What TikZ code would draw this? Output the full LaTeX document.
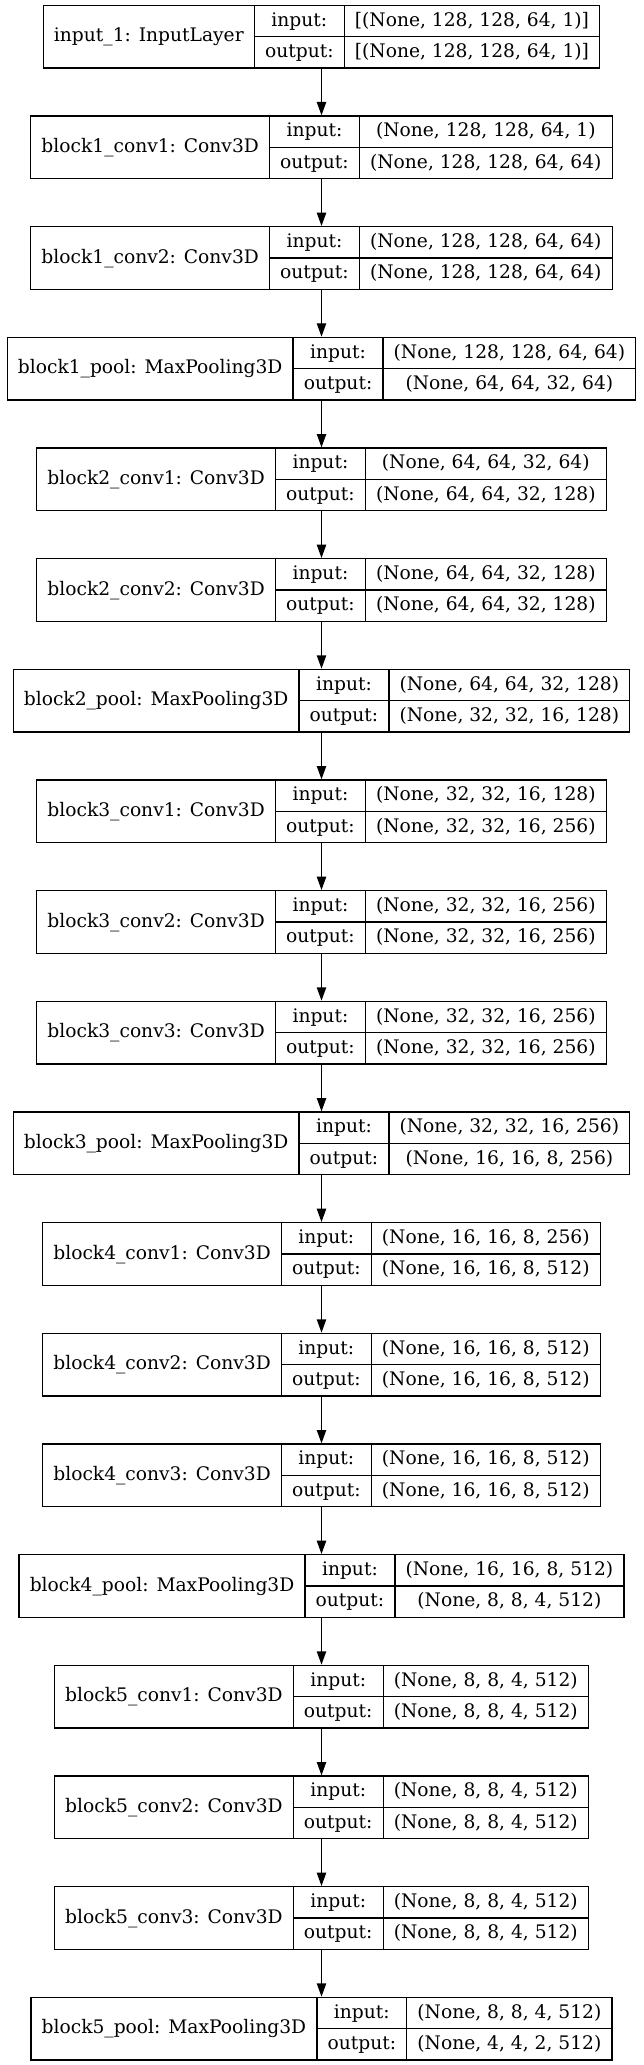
\documentclass[tikz,border=0pt]{standalone}
\usepackage{fontspec}
\newfontfamily\recfam{DejaVu Serif}
\usetikzlibrary{arrows.meta}
\newlength\Wl \newlength\Wio \newlength\Wv \newlength\Wt
\newcommand\rf{\recfam\fontsize{14pt}{16.8pt}\selectfont}
\newcommand\measure[2]{%
  \pgfinterruptpicture
    \global\setbox1=\hbox{\normalfont\rf #2}%
  \endpgfinterruptpicture
  #1=\wd1\relax
}
\tikzset{
  recbox/.style={draw=black, line width=1pt, inner sep=0pt, minimum height=47pt},
  recline/.style={draw=black, line width=1pt},
  rectext/.style={anchor=base, inner sep=0pt, font=\rf},
  arr/.style={draw=black, line width=1pt, -{Triangle[length=10pt,width=7pt]}},
}
\newcommand\record[5]{%
  \measure\Wl{#3}%
  \measure\Wio{output:}%
  \measure\Wv{#4}%
  \measure\Wt{#5}%
  \ifdim\Wt>\Wv \Wv=\Wt\fi
  \pgfmathsetmacro\ca{\Wl+16}%
  \pgfmathsetmacro\cb{\Wio+16}%
  \pgfmathsetmacro\cc{\Wv+16}%
  \pgfmathsetmacro\tw{\ca+\cb+\cc}%
  \pgfmathsetmacro\xl{241.125-\tw/2}%
  \pgfmathsetmacro\xa{\xl+\ca}%
  \pgfmathsetmacro\xb{\xa+\cb}%
  \pgfmathsetmacro\xr{\xb+\cc}%
  \pgfmathsetmacro\yt{-4-83*#2}%
  \pgfmathsetmacro\yb{\yt-47}%
  \pgfmathsetmacro\ym{\yt-23.5}%
  \node[recbox, minimum width=\tw pt] (#1) at (241.125,\ym) {};
  \draw[recline] (\xa,\yt) -- (\xa,\yb);
  \draw[recline] (\xb,\yt) -- (\xb,\yb);
  \draw[recline] (\xa,\ym) -- (\xr,\ym);
  \node[rectext] (#1-l) at ({(\xl+\xa)/2},{\ym-3.8}) {#3};
  \node[rectext] (#1-i) at ({(\xa+\xb)/2},{\yt-11.75-3.8}) {input:};
  \node[rectext] (#1-o) at ({(\xa+\xb)/2},{\yt-35.25-3.8}) {output:};
  \node[rectext] (#1-iv) at ({(\xb+\xr)/2},{\yt-11.75-3.8}) {#4};
  \node[rectext] (#1-ov) at ({(\xb+\xr)/2},{\yt-35.25-3.8}) {#5};
}
\begin{document}
\begin{tikzpicture}[x=1pt,y=1pt]
\useasboundingbox (0,0) rectangle (482.25,-1548.75);
\record{n0}{0}{input\_1: InputLayer}{[(None, 128, 128, 64, 1)]}{[(None, 128, 128, 64, 1)]}
\record{n1}{1}{block1\_conv1: Conv3D}{(None, 128, 128, 64, 1)}{(None, 128, 128, 64, 64)}
\record{n2}{2}{block1\_conv2: Conv3D}{(None, 128, 128, 64, 64)}{(None, 128, 128, 64, 64)}
\record{n3}{3}{block1\_pool: MaxPooling3D}{(None, 128, 128, 64, 64)}{(None, 64, 64, 32, 64)}
\record{n4}{4}{block2\_conv1: Conv3D}{(None, 64, 64, 32, 64)}{(None, 64, 64, 32, 128)}
\record{n5}{5}{block2\_conv2: Conv3D}{(None, 64, 64, 32, 128)}{(None, 64, 64, 32, 128)}
\record{n6}{6}{block2\_pool: MaxPooling3D}{(None, 64, 64, 32, 128)}{(None, 32, 32, 16, 128)}
\record{n7}{7}{block3\_conv1: Conv3D}{(None, 32, 32, 16, 128)}{(None, 32, 32, 16, 256)}
\record{n8}{8}{block3\_conv2: Conv3D}{(None, 32, 32, 16, 256)}{(None, 32, 32, 16, 256)}
\record{n9}{9}{block3\_conv3: Conv3D}{(None, 32, 32, 16, 256)}{(None, 32, 32, 16, 256)}
\record{n10}{10}{block3\_pool: MaxPooling3D}{(None, 32, 32, 16, 256)}{(None, 16, 16, 8, 256)}
\record{n11}{11}{block4\_conv1: Conv3D}{(None, 16, 16, 8, 256)}{(None, 16, 16, 8, 512)}
\record{n12}{12}{block4\_conv2: Conv3D}{(None, 16, 16, 8, 512)}{(None, 16, 16, 8, 512)}
\record{n13}{13}{block4\_conv3: Conv3D}{(None, 16, 16, 8, 512)}{(None, 16, 16, 8, 512)}
\record{n14}{14}{block4\_pool: MaxPooling3D}{(None, 16, 16, 8, 512)}{(None, 8, 8, 4, 512)}
\record{n15}{15}{block5\_conv1: Conv3D}{(None, 8, 8, 4, 512)}{(None, 8, 8, 4, 512)}
\record{n16}{16}{block5\_conv2: Conv3D}{(None, 8, 8, 4, 512)}{(None, 8, 8, 4, 512)}
\record{n17}{17}{block5\_conv3: Conv3D}{(None, 8, 8, 4, 512)}{(None, 8, 8, 4, 512)}
\record{n18}{18}{block5\_pool: MaxPooling3D}{(None, 8, 8, 4, 512)}{(None, 4, 4, 2, 512)}
\foreach \a/\b in {n0/n1,n1/n2,n2/n3,n3/n4,n4/n5,n5/n6,n6/n7,n7/n8,n8/n9,n9/n10,n10/n11,n11/n12,n12/n13,n13/n14,n14/n15,n15/n16,n16/n17,n17/n18}
  \draw[arr] (\a.south) -- (\b.north);
\end{tikzpicture}
\end{document}
